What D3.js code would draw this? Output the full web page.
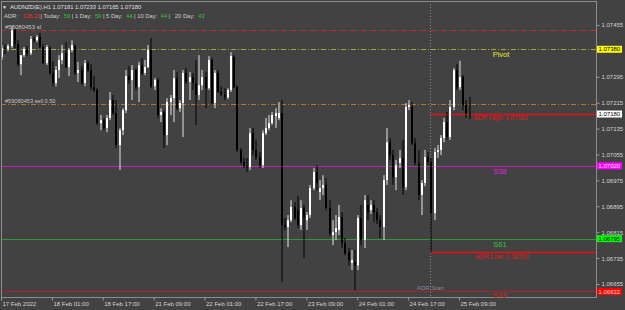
<!DOCTYPE html>

<head>
  <meta charset="utf-8">
  <script src="https://d3js.org/d3.v7.min.js"></script>
  <style>
    body {
      margin: 0;
      background: #424242;
    }
    svg text {
      font-family: "Liberation Sans", Arial, sans-serif;
    }
  </style>
</head>

<body>
  <script>
    var outerWidth = 625,
      outerHeight = 310;

    // chart frame (price scale sits to the right of it)
    var frame = { left: 1, top: 1, right: 596, bottom: 297 };

    // AUDNZD H1 candles, 17 Feb 09:00 .. 25 Feb 12:00 (148 bars)
    var opens = [1.07356, 1.07384, 1.07381, 1.07390, 1.07439, 1.07396, 1.07334, 1.07362, 1.07381, 1.07368,
      1.07412, 1.07408, 1.07418, 1.07387, 1.07337, 1.07384, 1.07307, 1.07276, 1.07316, 1.07347,
      1.07368, 1.07325, 1.07378, 1.07390, 1.07307, 1.07316, 1.07276, 1.07337, 1.07316, 1.07263,
      1.07254, 1.07152, 1.07161, 1.07137, 1.07168, 1.07223, 1.07183, 1.07084, 1.07130, 1.07192,
      1.07297, 1.07285, 1.07316, 1.07263, 1.07331, 1.07307, 1.07325, 1.07378, 1.07266, 1.07285,
      1.07177, 1.07186, 1.07115, 1.07217, 1.07229, 1.07291, 1.07198, 1.07214, 1.07307, 1.07279,
      1.07294, 1.07276, 1.07239, 1.07269, 1.07294, 1.07260, 1.07347, 1.07214, 1.07307, 1.07248,
      1.07242, 1.07232, 1.07254, 1.07356, 1.07263, 1.07069, 1.07032, 1.07019, 1.07016, 1.07121,
      1.07069, 1.07047, 1.07022, 1.07121, 1.07137, 1.07152, 1.07174, 1.07168, 1.07183, 1.06837,
      1.06831, 1.06852, 1.06893, 1.06883, 1.06837, 1.06890, 1.06852, 1.06868, 1.06951, 1.07001,
      1.06939, 1.06951, 1.06961, 1.06890, 1.06806, 1.06815, 1.06822, 1.06862, 1.06781, 1.06753,
      1.06720, 1.06723, 1.06713, 1.06859, 1.06791, 1.06899, 1.06883, 1.06899, 1.06877, 1.06852,
      1.06831, 1.06976, 1.07093, 1.07053, 1.06985, 1.07029, 1.07044, 1.06954, 1.07202, 1.07202,
      1.07090, 1.07029, 1.06930, 1.06967, 1.07047, 1.07032, 1.06874, 1.07063, 1.07069, 1.07106,
      1.07155, 1.07109, 1.07202, 1.07316, 1.07263, 1.07294, 1.07208, 1.07181];

    var highs = [1.07393, 1.07396, 1.07396, 1.07452, 1.07446, 1.07408, 1.07353, 1.07387, 1.07390, 1.07421,
      1.07418, 1.07424, 1.07430, 1.07396, 1.07393, 1.07390, 1.07344, 1.07328, 1.07362, 1.07393,
      1.07402, 1.07384, 1.07408, 1.07396, 1.07341, 1.07328, 1.07347, 1.07344, 1.07334, 1.07297,
      1.07260, 1.07177, 1.07168, 1.07177, 1.07248, 1.07239, 1.07223, 1.07137, 1.07198, 1.07316,
      1.07328, 1.07331, 1.07322, 1.07341, 1.07353, 1.07347, 1.07393, 1.07415, 1.07291, 1.07291,
      1.07198, 1.07192, 1.07229, 1.07239, 1.07316, 1.07310, 1.07223, 1.07316, 1.07322, 1.07310,
      1.07307, 1.07347, 1.07362, 1.07316, 1.07310, 1.07359, 1.07353, 1.07316, 1.07316, 1.07266,
      1.07260, 1.07260, 1.07371, 1.07362, 1.07269, 1.07075, 1.07044, 1.07044, 1.07137, 1.07137,
      1.07100, 1.07063, 1.07130, 1.07168, 1.07177, 1.07186, 1.07198, 1.07217, 1.07223, 1.06859,
      1.06868, 1.06914, 1.06908, 1.06927, 1.06914, 1.06899, 1.06877, 1.06961, 1.07013, 1.07022,
      1.06976, 1.06991, 1.06982, 1.06914, 1.06852, 1.06868, 1.06899, 1.06877, 1.06797, 1.06766,
      1.06760, 1.06760, 1.06868, 1.06899, 1.06930, 1.06930, 1.06914, 1.06914, 1.06890, 1.06868,
      1.06991, 1.07137, 1.07106, 1.07069, 1.07038, 1.07069, 1.07100, 1.07214, 1.07223, 1.07217,
      1.07106, 1.07069, 1.06976, 1.07069, 1.07063, 1.07044, 1.07075, 1.07084, 1.07115, 1.07168,
      1.07186, 1.07223, 1.07322, 1.07334, 1.07345, 1.07300, 1.07223, 1.07233];

    var lows = [1.07347, 1.07365, 1.07374, 1.07384, 1.07384, 1.07328, 1.07300, 1.07356, 1.07359, 1.07362,
      1.07402, 1.07402, 1.07384, 1.07334, 1.07331, 1.07300, 1.07266, 1.07266, 1.07291, 1.07334,
      1.07322, 1.07297, 1.07371, 1.07300, 1.07279, 1.07269, 1.07266, 1.07310, 1.07254, 1.07248,
      1.07146, 1.07130, 1.07130, 1.07124, 1.07161, 1.07177, 1.07075, 1.07007, 1.07115, 1.07183,
      1.07273, 1.07223, 1.07254, 1.07217, 1.07300, 1.07300, 1.07322, 1.07260, 1.07254, 1.07168,
      1.07155, 1.07075, 1.07084, 1.07177, 1.07155, 1.07192, 1.07186, 1.07109, 1.07273, 1.07223,
      1.07254, 1.07146, 1.07223, 1.07254, 1.07198, 1.07254, 1.07208, 1.07198, 1.07245, 1.07235,
      1.07223, 1.07226, 1.07248, 1.07260, 1.07063, 1.07025, 1.07013, 1.07001, 1.07007, 1.07053,
      1.07038, 1.07013, 1.07013, 1.07115, 1.07130, 1.07146, 1.07137, 1.07161, 1.06661, 1.06822,
      1.06769, 1.06846, 1.06852, 1.06828, 1.06822, 1.06735, 1.06822, 1.06859, 1.06945, 1.06945,
      1.06914, 1.06930, 1.06883, 1.06803, 1.06775, 1.06791, 1.06806, 1.06766, 1.06744, 1.06713,
      1.06698, 1.06636, 1.06698, 1.06775, 1.06766, 1.06852, 1.06871, 1.06846, 1.06840, 1.06797,
      1.06791, 1.06961, 1.07038, 1.06961, 1.06945, 1.07013, 1.06930, 1.06945, 1.07192, 1.07084,
      1.07022, 1.06914, 1.06868, 1.06957, 1.07022, 1.06753, 1.06852, 1.07044, 1.07053, 1.07093,
      1.07100, 1.07100, 1.07192, 1.07254, 1.07254, 1.07192, 1.07168, 1.07165];

    var closes = [1.07384, 1.07381, 1.07390, 1.07439, 1.07396, 1.07334, 1.07362, 1.07381, 1.07368, 1.07412,
      1.07408, 1.07418, 1.07387, 1.07337, 1.07387, 1.07307, 1.07276, 1.07316, 1.07347, 1.07368,
      1.07325, 1.07378, 1.07393, 1.07307, 1.07316, 1.07276, 1.07337, 1.07316, 1.07263, 1.07254,
      1.07152, 1.07161, 1.07137, 1.07168, 1.07223, 1.07183, 1.07084, 1.07130, 1.07192, 1.07297,
      1.07285, 1.07316, 1.07263, 1.07331, 1.07307, 1.07325, 1.07378, 1.07266, 1.07285, 1.07177,
      1.07186, 1.07115, 1.07217, 1.07229, 1.07291, 1.07198, 1.07214, 1.07307, 1.07279, 1.07294,
      1.07276, 1.07239, 1.07269, 1.07294, 1.07260, 1.07347, 1.07214, 1.07307, 1.07248, 1.07242,
      1.07232, 1.07254, 1.07359, 1.07263, 1.07069, 1.07032, 1.07019, 1.07016, 1.07121, 1.07069,
      1.07047, 1.07022, 1.07121, 1.07137, 1.07152, 1.07177, 1.07183, 1.07183, 1.06837, 1.06831,
      1.06852, 1.06893, 1.06859, 1.06837, 1.06890, 1.06862, 1.06868, 1.06951, 1.07001, 1.06967,
      1.06951, 1.06961, 1.06890, 1.06812, 1.06815, 1.06828, 1.06862, 1.06781, 1.06750, 1.06729,
      1.06729, 1.06713, 1.06859, 1.06791, 1.06914, 1.06877, 1.06899, 1.06877, 1.06852, 1.06831,
      1.06976, 1.07093, 1.07053, 1.06985, 1.07022, 1.07044, 1.06954, 1.07202, 1.07208, 1.07090,
      1.07029, 1.06930, 1.06967, 1.07047, 1.07032, 1.06874, 1.07063, 1.07069, 1.07106, 1.07155,
      1.07109, 1.07202, 1.07316, 1.07263, 1.07294, 1.07208, 1.07183, 1.07180];

    // time axis labels, every 16 bars
    var timeTicks = [0, 16, 32, 48, 64, 80, 96, 112, 128, 144];
    var timeLabels = ["17 Feb 2022", "18 Feb 01:00", "18 Feb 17:00", "21 Feb 09:00", "22 Feb 01:00",
      "22 Feb 17:00", "23 Feb 09:00", "24 Feb 01:00", "24 Feb 17:00", "25 Feb 09:00"];

    // price scale labels (1.07375 sits under the pivot tag, so it is left out)
    var priceTicks = [1.07455, 1.07295, 1.07215, 1.07135, 1.07055, 1.06975,
      1.06895, 1.06815, 1.06735, 1.06655];

    // indicator levels
    var slPrice = 1.07440,
      sellPrice = 1.07212,
      pivotPrice = 1.07380,
      s38Price = 1.07020,
      s61Price = 1.06795,
      s78Price = 1.06632,
      adrHighPrice = 1.07181,
      adrLowPrice = 1.06753,
      adrStartBar = 135;

    // ADR panel values
    var adrValue = 136.21;
    var adrNames = ["Today", "1 Day", "5 Day", "10 Day", "20 Day"];
    var adrPips = [59, 59, 44, 44, 43];

    var xScale = d3.scaleLinear()
      .domain([0, opens.length - 1])
      .range([1, 468.5]);

    // price to pixel, taken from the printed scale
    var yScale = d3.scaleLinear()
      .domain([1.06655, 1.07455])
      .range([284, 25]);

    var svg = d3.select("body")
      .append("svg")
      .attr("width", outerWidth)
      .attr("height", outerHeight)
      .style("display", "block");

    svg.append("rect")
      .attr("width", outerWidth)
      .attr("height", outerHeight)
      .attr("fill", "#424242");

    // horizontal levels
    function hLine(price, x0, color, width, dash) {
      var y = Math.round(yScale(price)) + 0.5;
      svg.append("line")
        .attr("x1", x0).attr("x2", frame.right)
        .attr("y1", y).attr("y2", y)
        .attr("stroke", color)
        .attr("stroke-width", width)
        .attr("stroke-dasharray", dash || null);
    }

    hLine(slPrice, frame.left, "#c62a2a", 1, "5,2,1,2");
    hLine(pivotPrice, frame.left, "#a8a838", 1, "5,2,1,2");
    hLine(sellPrice, frame.left, "#b8782a", 1, "5,2,1,2");
    hLine(s38Price, frame.left, "#c020c0", 1);
    hLine(s61Price, frame.left, "#2f9a2f", 1);
    hLine(s78Price, frame.left, "#a82424", 1);

    // ADR start marker
    var adrX = Math.round(xScale(adrStartBar)) + 0.5;
    svg.append("line")
      .attr("x1", adrX).attr("x2", adrX)
      .attr("y1", frame.top).attr("y2", frame.bottom)
      .attr("stroke", "#8a8a8a")
      .attr("stroke-dasharray", "1,2");

    hLine(adrHighPrice, adrX, "#e81010", 1.6);
    hLine(adrLowPrice, adrX, "#e81010", 1.6);

    // candles
    var bars = opens.map(function(o, i) {
      return { i: i, open: o, high: highs[i], low: lows[i], close: closes[i] };
    });

    var candle = svg.append("g").selectAll("g")
      .data(bars)
      .enter().append("g");

    candle.append("rect")
      .attr("x", function(d) { return Math.round(xScale(d.i)) + 0.5; })
      .attr("width", 1)
      .attr("y", function(d) { return yScale(d.high); })
      .attr("height", function(d) { return yScale(d.low) - yScale(d.high); })
      .attr("fill", function(d) { return d.close >= d.open ? "#e6e6e6" : "#000"; });

    candle.append("rect")
      .attr("x", function(d) { return Math.round(xScale(d.i)); })
      .attr("width", 2)
      .attr("y", function(d) { return yScale(Math.max(d.open, d.close)); })
      .attr("height", function(d) {
        return Math.max(1, Math.abs(yScale(d.open) - yScale(d.close)));
      })
      .attr("fill", function(d) { return d.close >= d.open ? "#ffffff" : "#000"; });

    // frame
    svg.append("rect")
      .attr("x", frame.left + 0.5)
      .attr("y", frame.top + 0.5)
      .attr("width", frame.right - frame.left)
      .attr("height", frame.bottom - frame.top)
      .attr("fill", "none")
      .attr("stroke", "#8c8c8c");

    // price axis on the right
    var yAxis = d3.axisRight(yScale)
      .tickValues(priceTicks)
      .tickSize(3)
      .tickPadding(2)
      .tickFormat(d3.format(".5f"));

    var yAxisG = svg.append("g")
      .attr("transform", "translate(" + (frame.right + 0.5) + ",0)")
      .call(yAxis);
    yAxisG.select(".domain").remove();
    yAxisG.selectAll("line").attr("stroke", "#9a9a9a");
    yAxisG.selectAll("text")
      .attr("fill", "#d4d4d4")
      .style("font-size", "6px")
      .style("font-family", "'Liberation Sans', Arial, sans-serif");

    // time axis at the bottom
    var xAxis = d3.axisBottom(xScale)
      .tickValues(timeTicks)
      .tickSize(3)
      .tickFormat(function(d, k) { return timeLabels[k]; });

    var xAxisG = svg.append("g")
      .attr("transform", "translate(0," + (frame.bottom + 0.5) + ")")
      .call(xAxis);
    xAxisG.select(".domain").remove();
    xAxisG.selectAll("line").attr("stroke", "#9a9a9a");
    xAxisG.selectAll("text")
      .attr("text-anchor", "start")
      .attr("x", 1)
      .attr("y", 4)
      .attr("fill", "#d4d4d4")
      .style("font-size", "6px")
      .style("font-family", "'Liberation Sans', Arial, sans-serif");

    // price tags on the scale
    function tag(price, bg, fg) {
      var y = yScale(price);
      svg.append("rect")
        .attr("x", frame.right + 1)
        .attr("y", y - 3.5)
        .attr("width", 25)
        .attr("height", 7)
        .attr("fill", bg);
      svg.append("text")
        .attr("x", frame.right + 2.5)
        .attr("y", y + 2.2)
        .attr("fill", fg)
        .style("font-size", "6px")
        .text(d3.format(".5f")(price));
    }

    tag(pivotPrice, "#ffff00", "#000");
    tag(closes[closes.length - 1], "#ffffff", "#000");
    tag(s38Price, "#ff00ff", "#ffe0ff");
    tag(s61Price, "#00ff00", "#000");
    tag(s78Price, "#ff0000", "#ffd8d8");

    // level captions
    function caption(text, x, y, color, size, anchor) {
      svg.append("text")
        .attr("x", x)
        .attr("y", y)
        .attr("fill", color)
        .attr("text-anchor", anchor || "middle")
        .style("font-size", size + "px")
        .text(text);
    }

    caption("Pivot", 501, 57, "#e8e830", 7.5);
    caption("ADR High: " + adrHighPrice.toFixed(5), 501, 120, "#e01818", 6.3);
    caption("S38", 500, 174, "#e020e0", 7.5);
    caption("S61", 500, 246.5, "#3cc23c", 7.5);
    caption("ADR Low: " + adrLowPrice.toFixed(5), 502, 259, "#e01818", 6.3);
    caption("S78", 500, 298, "#e01818", 7.5);
    caption("ADR Start", 417, 290, "#7d8c9c", 6, "start");
    caption("#55080453 sl", 5, 28.5, "#c8c8c8", 6, "start");
    caption("#59080453 sell 0.50", 5, 102.5, "#c8c8c8", 5.6, "start");

    // header: symbol and current bar
    var last = opens.length - 1;
    caption("\u25BC", 2, 8.5, "#e0e0e0", 5, "start");
    caption("AUDNZD(E),H1  " + [opens[last], highs[last], lows[last], closes[last]]
      .map(function(v) { return v.toFixed(5); }).join(" "), 10, 9, "#e0e0e0", 5.8, "start");

    // header: ADR panel
    var panel = svg.append("text")
      .attr("x", 4)
      .attr("y", 18)
      .attr("xml:space", "preserve")
      .style("font-size", "5.8px")
      .style("white-space", "pre");
    panel.append("tspan").attr("fill", "#d0d0d0").text("ADR:   ");
    panel.append("tspan").attr("fill", "#ff2a2a").text(adrValue.toFixed(2));
    adrNames.forEach(function(name, k) {
      panel.append("tspan").attr("fill", "#d0d0d0").text((k === 4 ? "|   " : "| ") + name + ":  ");
      panel.append("tspan").attr("fill", "#2ec82e").text(adrPips[k] + " ");
    });
  </script>
</body>
